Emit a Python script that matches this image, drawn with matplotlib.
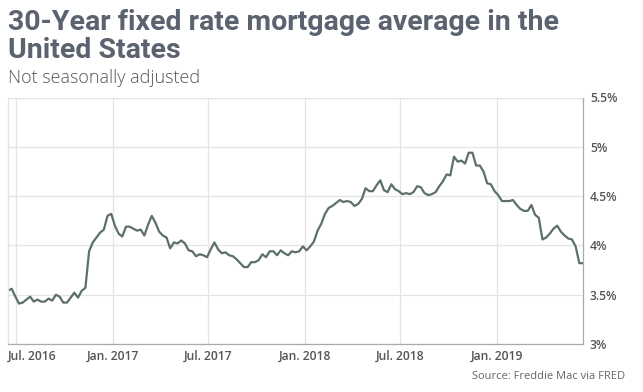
import matplotlib
matplotlib.use("Agg")
import matplotlib.pyplot as plt
import matplotlib.transforms as mtransforms
import numpy as np
import pandas as pd

start_date = "2016-06-16"
rates = [
    # 2016
    3.54, 3.56, 3.48, 3.41, 3.42, 3.45, 3.48, 3.43, 3.45, 3.43, 3.43, 3.46, 3.44,
    3.50, 3.48, 3.42, 3.42, 3.47, 3.52, 3.47, 3.54, 3.57, 3.94, 4.03, 4.08, 4.13,
    4.16, 4.30, 4.32,
    # 2017
    4.20, 4.12, 4.09, 4.19, 4.19, 4.17, 4.15, 4.16, 4.10, 4.21, 4.30, 4.23, 4.14,
    4.10, 4.08, 3.97, 4.03, 4.02, 4.05, 4.02, 3.95, 3.94, 3.89, 3.91, 3.90, 3.88,
    3.96, 4.03, 3.96, 3.92, 3.93, 3.90, 3.89, 3.86, 3.82, 3.78, 3.78, 3.83, 3.83,
    3.85, 3.91, 3.88, 3.94, 3.94, 3.90, 3.95, 3.92, 3.90, 3.94, 3.93, 3.94, 3.99,
    # 2018
    3.95, 3.99, 4.04, 4.15, 4.22, 4.32, 4.38, 4.40, 4.43, 4.46, 4.44, 4.45, 4.44,
    4.40, 4.42, 4.47, 4.58, 4.55, 4.55, 4.61, 4.66, 4.56, 4.54, 4.62, 4.57, 4.55,
    4.52, 4.53, 4.52, 4.54, 4.60, 4.59, 4.53, 4.51, 4.52, 4.54, 4.60, 4.65, 4.72,
    4.71, 4.90, 4.85, 4.86, 4.83, 4.94, 4.94, 4.81, 4.81, 4.75, 4.63, 4.62, 4.55,
    # 2019
    4.51, 4.45, 4.45, 4.45, 4.46, 4.41, 4.37, 4.35, 4.35, 4.41, 4.31, 4.28, 4.06,
    4.08, 4.12, 4.17, 4.20, 4.14, 4.10, 4.07, 4.06, 3.99, 3.82, 3.82,
]
x_ticks = ["2016-07-01", "2017-01-01", "2017-07-01", "2018-01-01", "2018-07-01", "2019-01-01"]
x_tick_labels = ["Jul. 2016", "Jan. 2017", "Jul. 2017", "Jan. 2018", "Jul. 2018", "Jan. 2019"]
y_ticks = [3.0, 3.5, 4.0, 4.5, 5.0, 5.5]
y_tick_labels = ["3%", "3.5%", "4%", "4.5%", "5%", "5.5%"]
title_lines = ["30-Year fixed rate mortgage average in the", "United States"]
subtitle = "Not seasonally adjusted"
source = "Source: Freddie Mac via FRED"

dates = pd.date_range(start_date, periods=len(rates), freq="7D")

fig = plt.figure(figsize=(6.43, 3.92), dpi=100)
ax = fig.add_axes([8/643, 48/392, 575/643, 246.5/392])

ax.plot(dates, rates, color="#5d6f6c", lw=1.6, solid_joinstyle="round")
ax.set_xlim(dates[0], dates[-1])
ax.set_ylim(3.0, 5.5)

tick_font = dict(fontfamily="Open Sans", fontweight="semibold", fontsize=8.7, color="#555555")
ax.set_xticks(pd.to_datetime(x_ticks))
ax.set_xticklabels(x_tick_labels, **tick_font)
ax.set_yticks(y_ticks)
ax.set_yticklabels(y_tick_labels, **tick_font)
ax.yaxis.tick_right()
ax.tick_params(axis="x", length=0, pad=4.5)
ax.tick_params(axis="y", length=0, pad=5)

# first x label justified inside the plot (left edge at the axes' left)
first = ax.get_xticklabels()[0]
first.set_horizontalalignment("left")
first.set_transform(first.get_transform() +
                    mtransforms.ScaledTranslation(-8/100, 0, fig.dpi_scale_trans))

ax.grid(True, color="#e4e4e4", lw=0.9)
ax.set_axisbelow(True)
ax.spines["top"].set_visible(False)
ax.spines["left"].set_color("#e4e4e4")
ax.spines["right"].set_color("#aaaaaa")
ax.spines["bottom"].set_color("#aaaaaa")
for s in ax.spines.values():
    s.set_linewidth(0.9)

title_font = dict(fontfamily="Roboto", fontweight="bold", fontsize=20.5, color="#5b6370",
                  ha="left", va="baseline")
fig.text(8/643, 1 - 30/392, title_lines[0], **title_font)
fig.text(8/643, 1 - 58/392, title_lines[1], **title_font)
fig.text(8/643, 1 - 83/392, subtitle, fontfamily="Open Sans",
         fontweight="light", fontsize=13, color="#555555", ha="left", va="baseline")
fig.text(625/643, 1 - 379/392, source, fontfamily="Open Sans",
         fontsize=8, color="#666666", ha="right", va="baseline")

fig.savefig("out.png", dpi=100)
